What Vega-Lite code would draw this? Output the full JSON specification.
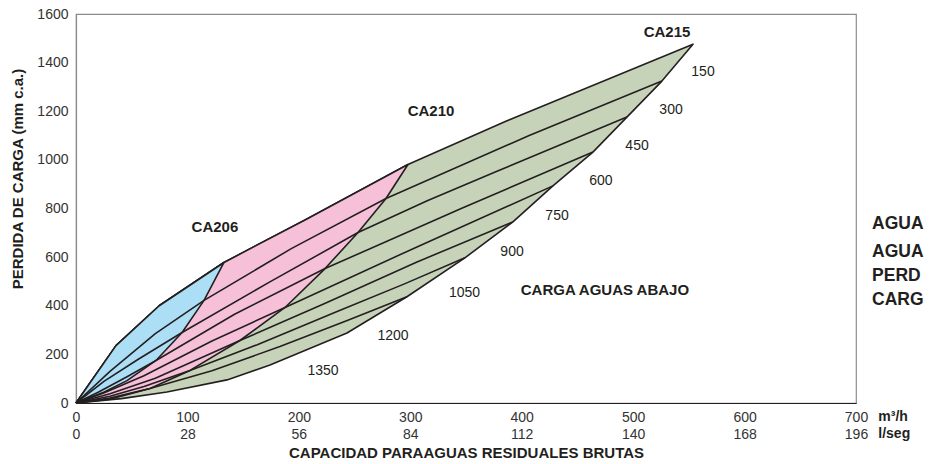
{
  "$schema": "https://vega.github.io/schema/vega-lite/v6.json",
  "autosize": {"type": "none"},
  "padding": {"left": 76, "top": 14, "right": 90, "bottom": 61},
  "width": 780,
  "height": 389,
  "background": "white",
  "config": {
    "view": {"stroke": "#8c8c8c", "strokeWidth": 1.2},
    "font": "Liberation Sans",
    "text": {"font": "Liberation Sans"}
  },
  "datasets": {
    "green": [
      {"i": 0, "x": 0, "y": 0}, {"i": 1, "x": 35.9, "y": 236}, {"i": 2, "x": 74.7, "y": 400}, {"i": 3, "x": 132.8, "y": 578},
      {"i": 4, "x": 206.4, "y": 755}, {"i": 5, "x": 297.9, "y": 981}, {"i": 6, "x": 386.3, "y": 1160}, {"i": 7, "x": 508.4, "y": 1390},
      {"i": 8, "x": 553.7, "y": 1476}, {"i": 9, "x": 525.8, "y": 1324}, {"i": 10, "x": 494.4, "y": 1176}, {"i": 11, "x": 463.9, "y": 1032},
      {"i": 12, "x": 428.0, "y": 893}, {"i": 13, "x": 392.1, "y": 745}, {"i": 14, "x": 349.0, "y": 597}, {"i": 15, "x": 297.0, "y": 437},
      {"i": 16, "x": 243.2, "y": 288}, {"i": 17, "x": 174.1, "y": 156}, {"i": 18, "x": 135.5, "y": 95}, {"i": 19, "x": 81.6, "y": 45},
      {"i": 20, "x": 40.7, "y": 18}, {"i": 21, "x": 0, "y": 0}
    ],
    "pink": [
      {"i": 0, "x": 0, "y": 0}, {"i": 1, "x": 35.9, "y": 236}, {"i": 2, "x": 74.7, "y": 400}, {"i": 3, "x": 132.8, "y": 578},
      {"i": 4, "x": 206.4, "y": 755}, {"i": 5, "x": 297.9, "y": 981}, {"i": 6, "x": 278.2, "y": 841}, {"i": 7, "x": 253.1, "y": 701},
      {"i": 8, "x": 223.5, "y": 553}, {"i": 9, "x": 187.6, "y": 393}, {"i": 10, "x": 147.1, "y": 257}, {"i": 11, "x": 102.3, "y": 134},
      {"i": 12, "x": 66.4, "y": 60}, {"i": 13, "x": 30.5, "y": 16}, {"i": 14, "x": 0, "y": 0}
    ],
    "blue": [
      {"i": 0, "x": 0, "y": 0}, {"i": 1, "x": 35.9, "y": 236}, {"i": 2, "x": 74.7, "y": 400}, {"i": 3, "x": 132.8, "y": 578},
      {"i": 4, "x": 114.9, "y": 422}, {"i": 5, "x": 95.2, "y": 290}, {"i": 6, "x": 71.8, "y": 175}, {"i": 7, "x": 45.8, "y": 92},
      {"i": 8, "x": 25.4, "y": 45}, {"i": 9, "x": 0, "y": 0}
    ],
    "curves": [
      {"c": "L1", "i": 0, "x": 0, "y": 0}, {"c": "L1", "i": 1, "x": 30.5, "y": 130}, {"c": "L1", "i": 2, "x": 71.2, "y": 285}, {"c": "L1", "i": 3, "x": 114.9, "y": 422},
      {"c": "L1", "i": 4, "x": 193.2, "y": 635}, {"c": "L1", "i": 5, "x": 278.2, "y": 841}, {"c": "L1", "i": 6, "x": 406.7, "y": 1100}, {"c": "L1", "i": 7, "x": 525.8, "y": 1324},
      {"c": "L2", "i": 0, "x": 0, "y": 0}, {"c": "L2", "i": 1, "x": 25.4, "y": 90}, {"c": "L2", "i": 2, "x": 55.9, "y": 180}, {"c": "L2", "i": 3, "x": 95.2, "y": 290},
      {"c": "L2", "i": 4, "x": 172.8, "y": 495}, {"c": "L2", "i": 5, "x": 253.1, "y": 701}, {"c": "L2", "i": 6, "x": 315.2, "y": 832}, {"c": "L2", "i": 7, "x": 376.2, "y": 950}, {"c": "L2", "i": 8, "x": 494.4, "y": 1176},
      {"c": "L3", "i": 0, "x": 0, "y": 0}, {"c": "L3", "i": 1, "x": 20.3, "y": 45}, {"c": "L3", "i": 2, "x": 45.8, "y": 108}, {"c": "L3", "i": 3, "x": 71.8, "y": 175},
      {"c": "L3", "i": 4, "x": 142.3, "y": 365}, {"c": "L3", "i": 5, "x": 223.5, "y": 553}, {"c": "L3", "i": 6, "x": 345.7, "y": 800}, {"c": "L3", "i": 7, "x": 463.9, "y": 1032},
      {"c": "L4", "i": 0, "x": 0, "y": 0}, {"c": "L4", "i": 1, "x": 25.4, "y": 42}, {"c": "L4", "i": 2, "x": 61, "y": 112}, {"c": "L4", "i": 3, "x": 122, "y": 255},
      {"c": "L4", "i": 4, "x": 187.6, "y": 393}, {"c": "L4", "i": 5, "x": 305, "y": 640}, {"c": "L4", "i": 6, "x": 428, "y": 893},
      {"c": "L5", "i": 0, "x": 0, "y": 0}, {"c": "L5", "i": 1, "x": 30.5, "y": 38}, {"c": "L5", "i": 2, "x": 71.2, "y": 102}, {"c": "L5", "i": 3, "x": 147.1, "y": 257},
      {"c": "L5", "i": 4, "x": 223.7, "y": 410}, {"c": "L5", "i": 5, "x": 305, "y": 578}, {"c": "L5", "i": 6, "x": 392.1, "y": 745},
      {"c": "L6", "i": 0, "x": 0, "y": 0}, {"c": "L6", "i": 1, "x": 30.5, "y": 28}, {"c": "L6", "i": 2, "x": 61, "y": 68}, {"c": "L6", "i": 3, "x": 102.3, "y": 134},
      {"c": "L6", "i": 4, "x": 162.7, "y": 240}, {"c": "L6", "i": 5, "x": 233.8, "y": 375}, {"c": "L6", "i": 6, "x": 294.8, "y": 490}, {"c": "L6", "i": 7, "x": 349, "y": 597},
      {"c": "L7", "i": 0, "x": 0, "y": 0}, {"c": "L7", "i": 1, "x": 30.5, "y": 20}, {"c": "L7", "i": 2, "x": 66.4, "y": 60}, {"c": "L7", "i": 3, "x": 122, "y": 133},
      {"c": "L7", "i": 4, "x": 183, "y": 232}, {"c": "L7", "i": 5, "x": 244, "y": 340}, {"c": "L7", "i": 6, "x": 297, "y": 437}
    ],
    "boldLabels": [
      {"t": "CA215", "x": 530.4, "y": 1526},
      {"t": "CA210", "x": 318.6, "y": 1200},
      {"t": "CA206", "x": 124.7, "y": 723},
      {"t": "CARGA AGUAS ABAJO", "x": 474.7, "y": 463}
    ],
    "numLabels": [
      {"t": "150", "x": 562.7, "y": 1363},
      {"t": "300", "x": 534, "y": 1205},
      {"t": "450", "x": 503.5, "y": 1056},
      {"t": "600", "x": 471.1, "y": 912},
      {"t": "750", "x": 431.7, "y": 768},
      {"t": "900", "x": 391.3, "y": 622},
      {"t": "1050", "x": 348.7, "y": 453},
      {"t": "1200", "x": 284.5, "y": 276},
      {"t": "1350", "x": 221.7, "y": 132}
    ],
    "sideText": [
      {"t": "AGUA", "x": 714.4, "y": 735},
      {"t": "AGUA", "x": 714.4, "y": 620},
      {"t": "PERD", "x": 714.4, "y": 521},
      {"t": "CARG", "x": 714.4, "y": 422}
    ],
    "units": [
      {"t": "m³/h", "x": 720, "y": -55.6},
      {"t": "l/seg", "x": 720, "y": -127.7}
    ]
  },
  "encoding": {
    "x": {
      "field": "x", "type": "quantitative",
      "scale": {"domain": [0, 700], "nice": false, "zero": true},
      "axis": {
        "values": [0, 100, 200, 300, 400, 500, 600, 700],
        "labelExpr": "[datum.label, format(round(datum.value * 0.28), 'd')]",
        "labelLineHeight": 17.5,
        "labelFontSize": 14, "labelColor": "#333333", "labelFont": "Liberation Sans",
        "labelPadding": 7, "labelFlush": false, "labelOverlap": false,
        "ticks": false, "grid": false,
        "domainColor": "#231f20", "domainWidth": 1.2,
        "title": "CAPACIDAD PARAAGUAS RESIDUALES BRUTAS",
        "titleFont": "Liberation Sans", "titleFontSize": 15, "titleFontWeight": "bold", "titleColor": "#231f20",
        "titleBaseline": "alphabetic", "titleY": 54
      }
    },
    "y": {
      "field": "y", "type": "quantitative",
      "scale": {"domain": [0, 1600], "nice": false, "zero": true},
      "axis": {
        "values": [0, 200, 400, 600, 800, 1000, 1200, 1400, 1600],
        "format": "d",
        "labelFontSize": 14, "labelColor": "#333333", "labelFont": "Liberation Sans",
        "labelPadding": 8, "labelFlush": false, "labelOverlap": false,
        "ticks": false, "grid": false,
        "domainColor": "#8c8c8c", "domainWidth": 1.2,
        "title": "PERDIDA DE CARGA (mm c.a.)",
        "titleFont": "Liberation Sans", "titleFontSize": 15, "titleFontWeight": "bold", "titleColor": "#231f20",
        "titleAngle": -90, "titleAlign": "center", "titleBaseline": "alphabetic",
        "titleX": -54, "titleY": 164.5
      }
    }
  },
  "layer": [
    {
      "data": {"name": "green"},
      "mark": {"type": "line", "fill": "#c7d3b9", "stroke": "#231f20", "strokeWidth": 1.6, "strokeJoin": "round"},
      "encoding": {"order": {"field": "i", "type": "quantitative"}}
    },
    {
      "data": {"name": "pink"},
      "mark": {"type": "line", "fill": "#f6c0d8", "stroke": "#231f20", "strokeWidth": 1.6, "strokeJoin": "round"},
      "encoding": {"order": {"field": "i", "type": "quantitative"}}
    },
    {
      "data": {"name": "blue"},
      "mark": {"type": "line", "fill": "#acdff6", "stroke": "#231f20", "strokeWidth": 1.6, "strokeJoin": "round"},
      "encoding": {"order": {"field": "i", "type": "quantitative"}}
    },
    {
      "data": {"name": "curves"},
      "mark": {"type": "line", "stroke": "#231f20", "strokeWidth": 1.6, "strokeJoin": "round"},
      "encoding": {"detail": {"field": "c"}, "order": {"field": "i", "type": "quantitative"}}
    },
    {
      "data": {"name": "boldLabels"},
      "mark": {"type": "text", "font": "Liberation Sans", "fontSize": 15, "fontWeight": "bold", "fill": "#231f20", "align": "center", "baseline": "middle"},
      "encoding": {"text": {"field": "t"}}
    },
    {
      "data": {"name": "numLabels"},
      "mark": {"type": "text", "font": "Liberation Sans", "fontSize": 14, "fill": "#231f20", "align": "center", "baseline": "middle"},
      "encoding": {"text": {"field": "t"}}
    },
    {
      "data": {"name": "sideText"},
      "mark": {"type": "text", "font": "Liberation Sans", "fontSize": 17.5, "fontWeight": "bold", "fill": "#231f20", "align": "left", "baseline": "middle"},
      "encoding": {"text": {"field": "t"}}
    },
    {
      "data": {"name": "units"},
      "mark": {"type": "text", "font": "Liberation Sans", "fontSize": 14, "fontWeight": "bold", "fill": "#231f20", "align": "left", "baseline": "middle"},
      "encoding": {"text": {"field": "t"}}
    }
  ]
}
